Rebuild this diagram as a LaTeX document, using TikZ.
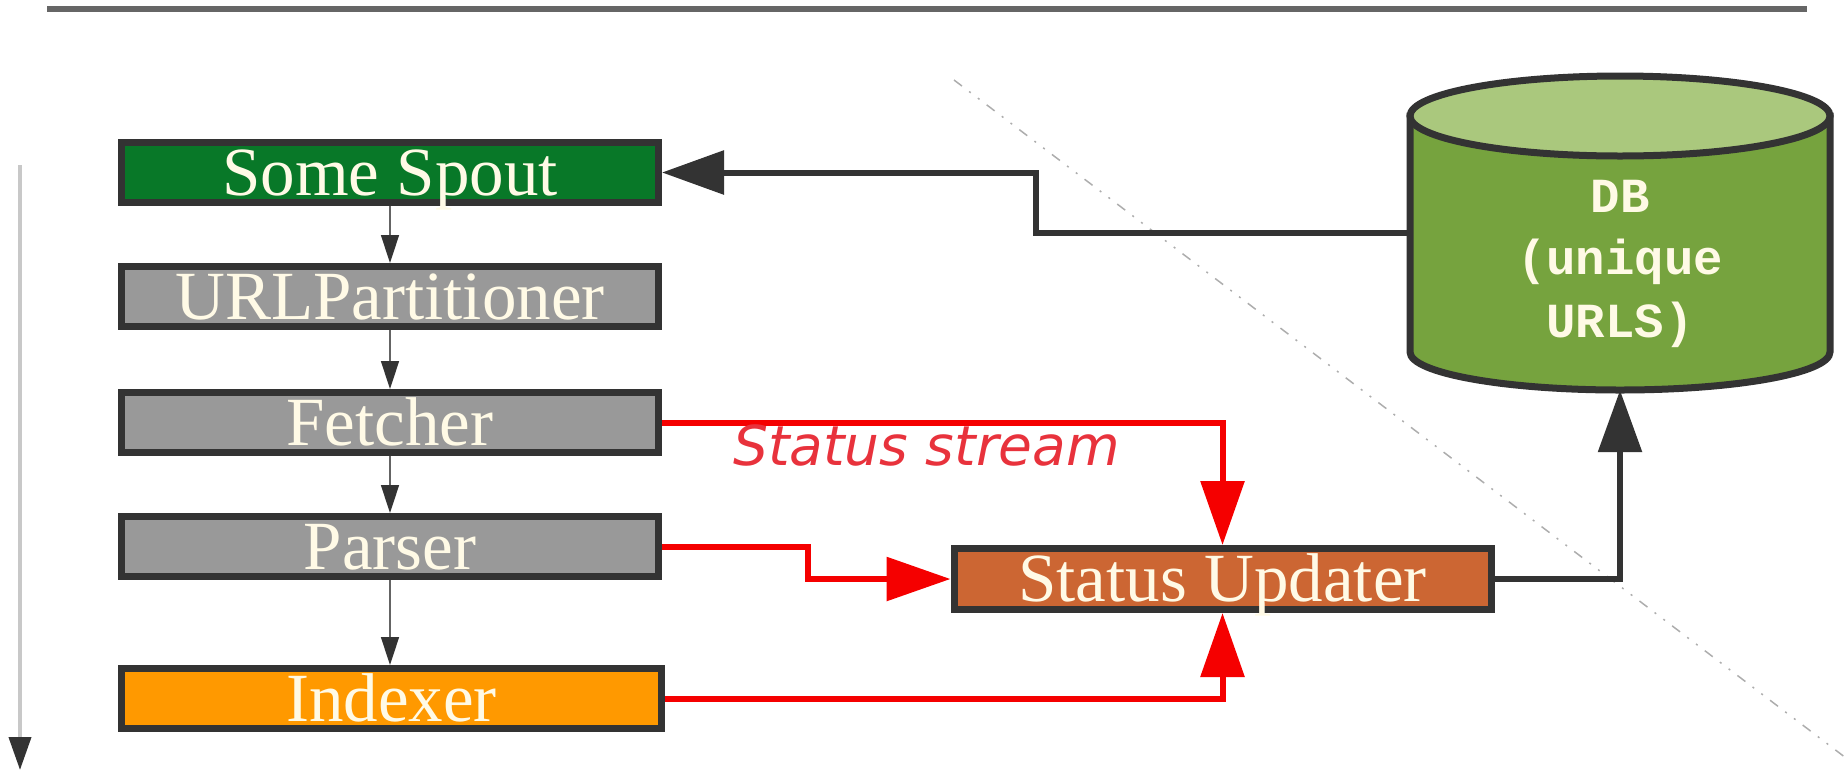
\documentclass[tikz,border=0pt]{standalone}
\usepackage{fontspec}
\setmainfont{Liberation Serif}
\newfontfamily\dbfont{Liberation Mono}
\newfontfamily\streamfont{DejaVu Sans}
\usetikzlibrary{arrows.meta}
\definecolor{outline}{RGB}{51,51,51}
\definecolor{spoutgreen}{RGB}{8,120,40}
\definecolor{boxgray}{RGB}{153,153,153}
\definecolor{idxorange}{RGB}{255,153,0}
\definecolor{suorange}{RGB}{204,102,51}
\definecolor{dbbody}{RGB}{118,163,62}
\definecolor{dbtop}{RGB}{170,200,125}
\definecolor{cream}{RGB}{255,250,230}
\definecolor{redline}{RGB}{245,0,0}
\definecolor{streamred}{RGB}{232,50,60}
\definecolor{barGray}{RGB}{102,102,102}
\tikzset{
  stage/.style={draw=outline, line width=7pt, minimum width=537pt, minimum height=60pt,
    inner sep=0pt, text=cream, text height=45pt, text depth=0pt,
    font=\fontsize{69}{69}\selectfont},
  thinarrow/.style={draw={rgb,255:red,100;green,100;blue,100}, line width=1.5pt,
    -{Triangle[length=28pt,width=18pt,color=outline]}},
  redarrow/.style={draw=redline, line width=6pt, -{Triangle[length=64pt,width=43pt]}},
  darkarrow/.style={draw=outline, line width=6pt, -{Triangle[length=62pt,width=43pt]}},
  timearrow/.style={draw={rgb,255:red,200;green,200;blue,200}, line width=4pt,
    -{Triangle[length=33pt,width=22pt,color=outline]}},
  dbshape/.style={draw=outline, line width=7pt},
}
\begin{document}
\begin{tikzpicture}[x=1pt,y=-1pt]
\useasboundingbox (0,0) rectangle (1846,772);
% top bar
\fill[barGray] (47,6) rectangle (1807,12);
% diagonal faint line
\draw[black!32, line width=1.5pt, dash pattern=on 10pt off 9pt on 2pt off 9pt on 2pt off 9pt]
  (954,80) -- (1846,758);
% time arrow
\coordinate (ltop) at (20,165);
\coordinate (lbot) at (20,770);
\draw[timearrow] (ltop) -- (lbot);
% pipeline boxes
\node[stage, fill=spoutgreen] (spout) at (390,172.5) {Some Spout};
\node[stage, fill=boxgray] (urlp) at (390,296.5) {URLPartitioner};
\node[stage, fill=boxgray] (fetcher) at (390,422.5) {Fetcher};
\node[stage, fill=boxgray] (parser) at (390,546.5) {Parser};
\node[stage, fill=idxorange, minimum width=540pt] (indexer) at (391.5,698.5) {Indexer};
\node[stage, fill=suorange, minimum height=61pt] (su) at (1222.5,579) {Status Updater};
% database cylinder
\filldraw[dbshape, fill=dbbody] (1410,116) -- (1410,352)
  arc[start angle=180, end angle=0, x radius=210, y radius=38] -- (1830,116) -- cycle;
\filldraw[dbshape, fill=dbtop] (1620,116) ellipse[x radius=210, y radius=40];
\node[minimum width=420pt, minimum height=314pt, inner sep=0pt] (db) at (1620,233) {};
\node[text=cream, font=\dbfont\bfseries\fontsize{49}{62.5}\selectfont, align=center,
  anchor=base] (dbtext) at (1620,337) {DB\\(unique\\URLS)};
% pipeline arrows
\draw[thinarrow] (spout) -- (urlp);
\draw[thinarrow] (urlp) -- (fetcher);
\draw[thinarrow] (fetcher) -- (parser);
\draw[thinarrow] (parser.south) -- (parser.south |- indexer.north);
% status stream
\draw[redarrow] (fetcher.east) -| (su.north);
\draw[redarrow] (parser.east) -- ++(146,0) |- (su.west);
\draw[redarrow] (indexer.east) -| (su.south);
\node[anchor=base west, text=streamred, inner sep=0pt,
  font=\streamfont\itshape\fontsize{55}{55}\selectfont] (stream) at (733,465) {Status stream};
% DB connections
\draw[darkarrow] (su.east) -| (db.south);
\draw[darkarrow] (db.west) -- ++(-374,0) |- (spout.east);
\end{tikzpicture}
\end{document}
